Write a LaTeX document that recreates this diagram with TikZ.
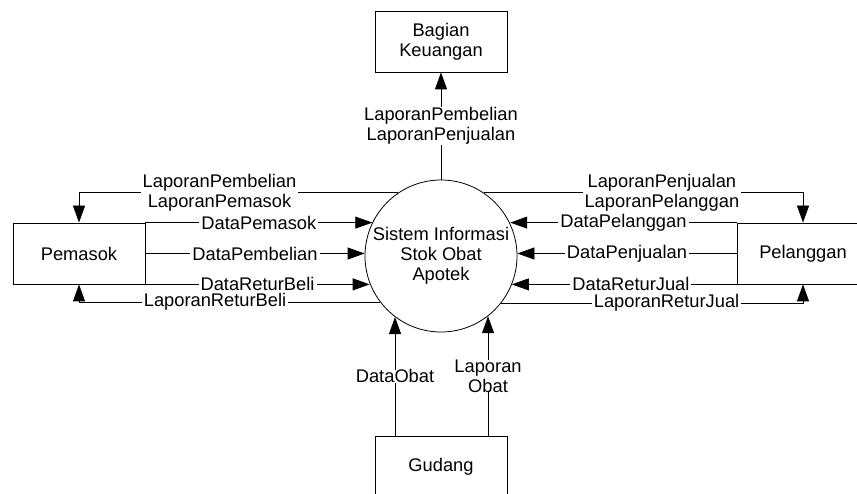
\documentclass[tikz,border=0pt]{standalone}
\usepackage{fontspec}
\setmainfont{Liberation Sans}
\usetikzlibrary{arrows.meta}
\begin{document}
\begin{tikzpicture}[x=1pt,y=-1pt,
  every node/.style={font=\fontsize{18.3}{20}\selectfont, align=center},
  entity/.style={draw, line width=0.8pt, minimum width=132pt, minimum height=61pt, inner sep=0pt},
  process/.style={draw, circle, line width=0.8pt, minimum size=152pt, inner sep=0pt},
  flow/.style={draw, line width=0.8pt, -{Triangle[length=17pt,width=12pt]}},
  lbl/.style={fill=white, inner xsep=2pt, inner ysep=0pt}]
\useasboundingbox (0,0) rectangle (857,494);
\clip (0,0) rectangle (857,494);

% process and external entities
\node[process] (sys) at (441,256) {Sistem Informasi\\Stok Obat\\Apotek};
\node[entity] (keu) at (441,41.5) {Bagian\\Keuangan};
\node[entity] (pemasok) at (79,253.5) {Pemasok};
\node[entity] (pelanggan) at (803,253.5) {Pelanggan};
\node[entity] (gudang) at (441,466.5) {Gudang};

% reports to finance
\draw[flow] (sys.north) -- node[lbl]{LaporanPembelian\\LaporanPenjualan} (keu.south);

% supplier flows
\draw[flow] (sys.124) -| node[lbl,pos=0.28]{LaporanPembelian\\LaporanPemasok} (pemasok.north);
\draw[flow] (pemasok.north east) -- node[lbl]{DataPemasok} (pemasok.north east -| sys.154.3);
\draw[flow] (pemasok.east) -- node[lbl]{DataPembelian} (pemasok.east -| sys.west);
\draw[flow] (pemasok.south east) -- node[lbl]{DataReturBeli} (pemasok.south east -| sys.201.6);
\draw[flow] (sys.217.2) -| node[lbl,pos=0.274]{LaporanReturBeli} (pemasok.south);

% customer flows
\draw[flow] (sys.56) -| node[lbl,pos=0.279]{LaporanPenjualan\\LaporanPelanggan} (pelanggan.north);
\draw[flow] (pelanggan.north west) -- node[lbl]{DataPelanggan} (pelanggan.north west -| sys.25.7);
\draw[flow] (pelanggan.west) -- node[lbl]{DataPenjualan} (pelanggan.west -| sys.east);
\draw[flow] (pelanggan.south west) -- node[lbl,pos=0.47]{DataReturJual} (pelanggan.south west -| sys.338.4);
\draw[flow] (sys.322.8) -| node[lbl,pos=0.274]{LaporanReturJual} (pelanggan.south);

% warehouse flows
\draw[flow] (gudang.north -| sys.233.7) -- node[lbl]{DataObat} (sys.233.7);
\draw[flow] (gudang.north -| sys.308.2) -- node[lbl]{Laporan\\Obat} (sys.308.2);
\end{tikzpicture}
\end{document}
